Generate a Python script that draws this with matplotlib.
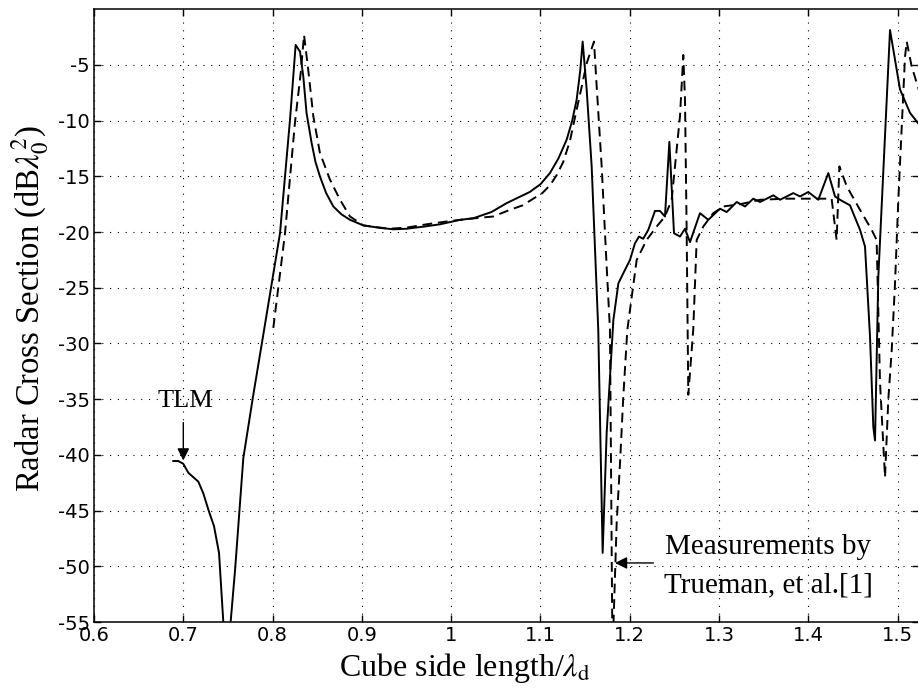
import matplotlib
matplotlib.use('Agg')
import matplotlib.pyplot as plt

# TLM result (solid)
x_tlm = [0.6888, 0.6944, 0.700, 0.7056, 0.7112, 0.7168, 0.7224, 0.7284, 0.7344, 0.740,
         0.7448, 0.749, 0.753, 0.758, 0.7672, 0.778, 0.7896, 0.8083, 0.8139, 0.8195,
         0.8258, 0.8307, 0.8344, 0.838, 0.8437, 0.848, 0.853, 0.86, 0.868, 0.877,
         0.8867, 0.9016, 0.9184, 0.935, 0.95, 0.97, 0.9875, 1.0099, 1.0247, 1.045,
         1.0621, 1.075, 1.088, 1.1, 1.1106, 1.12, 1.1293, 1.1355, 1.1405, 1.1445,
         1.1472, 1.1517, 1.1573, 1.1647, 1.1696, 1.1741, 1.1816, 1.1872, 1.1927, 1.2002,
         1.2058, 1.2103, 1.215, 1.2207, 1.2282, 1.2338, 1.2394, 1.2443, 1.2495, 1.2562,
         1.2618, 1.2674, 1.2786, 1.2879, 1.301, 1.3085, 1.3197, 1.329, 1.3383, 1.3458,
         1.3607, 1.3682, 1.3831, 1.3906, 1.3999, 1.4111, 1.4223, 1.4298, 1.4354, 1.4466,
         1.4578, 1.4634, 1.469, 1.4727, 1.4746, 1.4783, 1.4914, 1.5026, 1.5138, 1.5236]
y_tlm = [-40.55, -40.55, -40.8, -41.6, -42.0, -42.4, -43.45, -45.0, -46.4, -48.8,
         -55.0, -60.0, -55.0, -50.3, -40.3, -34.8, -29.2, -20.1, -15.0, -9.9,
         -3.2, -3.8, -6.05, -9.3, -12.0, -13.7, -15.0, -16.5, -17.7, -18.4,
         -18.9, -19.4, -19.6, -19.75, -19.7, -19.5, -19.3, -18.9, -18.76, -18.2,
         -17.4, -16.9, -16.4, -15.7, -14.7, -13.4, -11.7, -10.0, -8.1, -5.5,
         -2.9, -7.2, -14.1, -28.8, -48.8, -38.0, -27.9, -24.6, -23.7, -22.5,
         -21.0, -20.4, -20.6, -19.8, -18.1, -18.1, -18.6, -11.9, -20.1, -20.4,
         -19.7, -20.9, -18.3, -18.9, -17.9, -18.2, -17.3, -17.7, -17.0, -17.3,
         -16.7, -17.1, -16.5, -16.8, -16.4, -17.1, -14.7, -16.8, -17.1, -17.6,
         -19.8, -21.3, -29.4, -37.5, -38.7, -24.0, -1.86, -7.2, -9.3, -10.3]

# Measurements by Trueman et al. (dashed)
x_meas = [0.8008, 0.8139, 0.825, 0.8315, 0.8352, 0.84, 0.8456, 0.853, 0.8643, 0.8755,
          0.8867, 0.9016, 0.93, 0.95, 0.9725, 0.99, 1.01, 1.021, 1.047, 1.0658,
          1.08, 1.0919, 1.102, 1.1106, 1.118, 1.1255, 1.133, 1.1405, 1.146, 1.1517,
          1.1599, 1.1629, 1.1685, 1.1741, 1.1778, 1.1806, 1.1853, 1.189, 1.1927, 1.1972,
          1.2077, 1.2189, 1.2301, 1.2394, 1.2469, 1.2506, 1.2562, 1.2599, 1.2618, 1.2637,
          1.2655, 1.271, 1.2749, 1.2823, 1.2935, 1.3047, 1.3234, 1.3458, 1.3757, 1.398,
          1.426, 1.4316, 1.4347, 1.443, 1.4578, 1.4708, 1.4764, 1.4802, 1.4858, 1.4895,
          1.4933, 1.497, 1.5007, 1.5082, 1.5101, 1.5157, 1.5236]
y_meas = [-28.6, -20.1, -10.2, -5.7, -2.3, -5.5, -9.6, -12.9, -15.3, -17.1,
          -18.6, -19.4, -19.7, -19.6, -19.3, -19.1, -18.9, -18.8, -18.6, -18.0,
          -17.6, -17.0, -16.5, -15.8, -14.9, -13.7, -11.8, -9.0, -7.0, -4.85,
          -2.9, -6.9, -14.1, -23.1, -28.8, -58.0, -46.1, -40.8, -34.8, -28.8,
          -22.5, -20.7, -19.5, -18.6, -17.1, -14.1, -9.6, -4.1, -8.1, -20.1,
          -34.6, -28.8, -20.7, -19.5, -18.3, -17.7, -17.5, -17.1, -17.0, -17.0,
          -17.0, -20.7, -14.1, -15.9, -18.0, -19.8, -20.7, -33.5, -42.0, -35.0,
          -30.6, -24.6, -17.1, -4.25, -2.9, -5.15, -7.2]

x_ticks = [0.6, 0.7, 0.8, 0.9, 1.0, 1.1, 1.2, 1.3, 1.4, 1.5]
x_ticklabels = ['0.6', '0.7', '0.8', '0.9', '1', '1.1', '1.2', '1.3', '1.4', '1.5']
y_ticks = [-55, -50, -45, -40, -35, -30, -25, -20, -15, -10, -5]

plt.rcParams['mathtext.fontset'] = 'stix'
plt.rcParams['axes.unicode_minus'] = False
serif = 'Liberation Serif'
sans = 'DejaVu Sans'

fig = plt.figure(figsize=(9.18, 6.88), dpi=100)
x0, x1 = 0.6, 1.5236
ax = fig.add_axes([94 / 918, 66 / 688, (x1 - x0) * 893 / 918, 612.7 / 688])

ax.plot(x_tlm, y_tlm, color='k', lw=1.4)
ax.plot(x_meas, y_meas, color='k', lw=1.4, dashes=(5, 3))

ax.set_xlim(x0, x1)
ax.set_ylim(-55, -0.001)
ax.set_xticks(x_ticks)
ax.set_xticklabels(x_ticklabels)
ax.set_yticks(y_ticks)
ax.tick_params(direction='in', length=5, width=1, top=True, right=True,
               labelsize=14, pad=3)
for lab in ax.get_xticklabels() + ax.get_yticklabels():
    lab.set_fontfamily(sans)
for s in ax.spines.values():
    s.set_linewidth(1.1)
ax.grid(True, color='k', lw=0.8, linestyle=(0, (1, 6)))

# labels
fig.text(465 / 918, 12 / 688, r'Cube side length/$\lambda_\mathrm{d}$',
         family=serif, fontsize=23, ha='center', va='baseline')
fig.text(30 / 918, (688 - 309) / 688, r'Radar Cross Section (dB$\lambda_0^2$)',
         family=serif, fontsize=23.5, ha='center', va='center', rotation=90)

# annotations
ax.text(0.7028, -35.2, 'TLM', family=serif, fontsize=19, ha='center', va='center')
ax.annotate('', xy=(0.7, -40.5), xytext=(0.7, -37.1),
            arrowprops=dict(arrowstyle='-|>', color='k', lw=1, mutation_scale=18,
                            shrinkA=0, shrinkB=0))
ax.text(1.3548, -50.0, 'Measurements by\nTrueman, et al.[1]', family=serif,
        fontsize=21, ha='center', va='center', linespacing=1.65)
ax.annotate('', xy=(1.1834, -49.7), xytext=(1.2264, -49.7),
            arrowprops=dict(arrowstyle='-|>', color='k', lw=1, mutation_scale=18,
                            shrinkA=0, shrinkB=0))

fig.savefig('out.png', dpi=100)
